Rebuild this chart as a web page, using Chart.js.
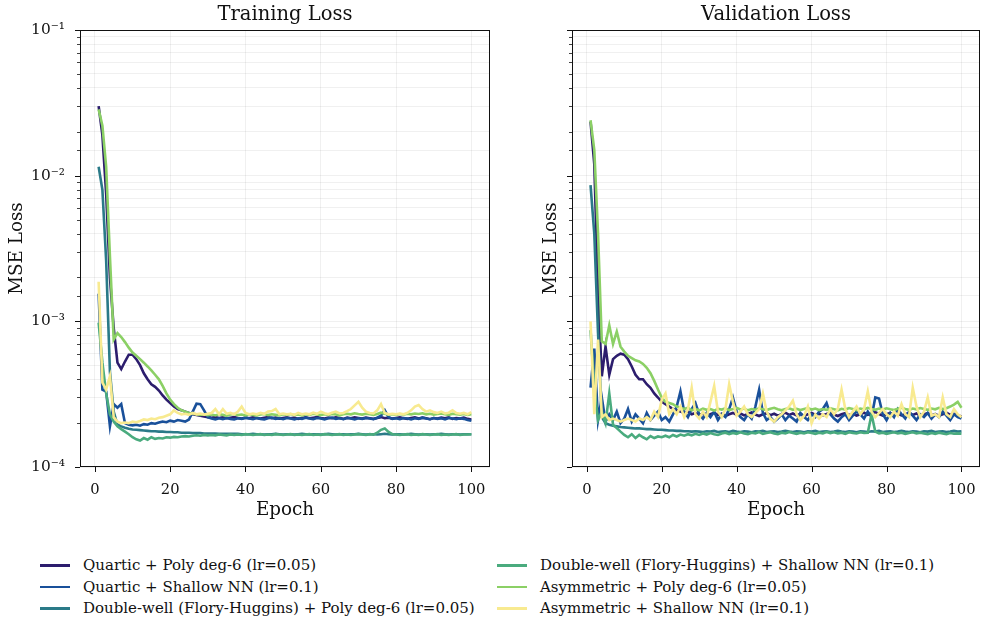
<!DOCTYPE html>
<html>
<head>
<meta charset="utf-8">
<script src="https://cdn.jsdelivr.net/npm/chart.js@4/dist/chart.umd.min.js"></script>
<style>
  body { margin: 0; background: #fff; width: 981px; height: 619px; position: relative; overflow: hidden; font-family: "DejaVu Serif", serif; }
  canvas { position: absolute; top: 0; }
  #trainChart { left: 0; }
  #valChart { left: 534px; }
  .legend-item { position: absolute; font-size: 15px; color: #111; line-height: 18px; white-space: nowrap; }
  .legend-item span { position: absolute; top: 8px; width: 30px; height: 2.8px; }
</style>
</head>
<body>
<canvas id="trainChart" width="491" height="525"></canvas>
<canvas id="valChart" width="447" height="525"></canvas>
<div id="legend"></div>
<script>
// epochs 1..100
const epochs = Array.from({ length: 100 }, (_, i) => i + 1);

const runNames = [
  "Quartic + Poly deg-6 (lr=0.05)",
  "Quartic + Shallow NN (lr=0.1)",
  "Double-well (Flory-Huggins) + Poly deg-6 (lr=0.05)",
  "Double-well (Flory-Huggins) + Shallow NN (lr=0.1)",
  "Asymmetric + Poly deg-6 (lr=0.05)",
  "Asymmetric + Shallow NN (lr=0.1)"
];
const runColors = ["#2c1d6d", "#19509a", "#2a7a88", "#4aab7e", "#8bd065", "#f8ea90"];

const yTicks = [1e-4, 1e-3, 1e-2, 1e-1];
const xTicks = [0, 20, 40, 60, 80, 100];

// ---- training loss ----
const trainQuarticPoly = [
  3.0e-2, 1.9e-2, 7.5e-3, 2.0e-3, 9.0e-4, 5.2e-4, 4.7e-4, 5.3e-4, 5.9e-4, 5.9e-4,
  5.5e-4, 5.0e-4, 4.4e-4, 4.0e-4, 3.7e-4, 3.55e-4, 3.35e-4, 3.1e-4, 2.9e-4, 2.75e-4,
  2.6e-4, 2.5e-4, 2.45e-4, 2.4e-4, 2.35e-4, 2.3e-4, 2.28e-4, 2.25e-4, 2.22e-4, 2.2e-4,
  2.18e-4, 2.2e-4, 2.17e-4, 2.19e-4, 2.16e-4, 2.18e-4, 2.2e-4, 2.17e-4, 2.15e-4, 2.18e-4,
  2.16e-4, 2.19e-4, 2.17e-4, 2.15e-4, 2.18e-4, 2.2e-4, 2.16e-4, 2.18e-4, 2.15e-4, 2.17e-4,
  2.19e-4, 2.16e-4, 2.18e-4, 2.14e-4, 2.17e-4, 2.19e-4, 2.16e-4, 2.18e-4, 2.2e-4, 2.17e-4,
  2.15e-4, 2.18e-4, 2.16e-4, 2.19e-4, 2.17e-4, 2.14e-4, 2.18e-4, 2.16e-4, 2.19e-4, 2.17e-4,
  2.15e-4, 2.18e-4, 2.16e-4, 2.14e-4, 2.17e-4, 2.2e-4, 2.16e-4, 2.18e-4, 2.15e-4, 2.17e-4,
  2.19e-4, 2.16e-4, 2.14e-4, 2.17e-4, 2.19e-4, 2.15e-4, 2.18e-4, 2.16e-4, 2.13e-4, 2.17e-4,
  2.15e-4, 2.18e-4, 2.16e-4, 2.19e-4, 2.14e-4, 2.17e-4, 2.15e-4, 2.18e-4, 2.14e-4, 2.12e-4
];
const trainQuarticNN = [
  1.55e-3, 3.4e-4, 3.3e-4, 1.9e-4, 2.7e-4, 2.55e-4, 2.7e-4, 2.0e-4, 1.95e-4, 1.93e-4,
  1.95e-4, 1.92e-4, 1.97e-4, 1.95e-4, 2.0e-4, 1.98e-4, 2.02e-4, 2.05e-4, 2.03e-4, 2.08e-4,
  2.05e-4, 2.1e-4, 2.08e-4, 2.05e-4, 2.12e-4, 2.4e-4, 2.72e-4, 2.7e-4, 2.45e-4, 2.2e-4,
  2.15e-4, 2.12e-4, 2.16e-4, 2.13e-4, 2.17e-4, 2.14e-4, 2.12e-4, 2.16e-4, 2.14e-4, 2.18e-4,
  2.15e-4, 2.13e-4, 2.17e-4, 2.14e-4, 2.12e-4, 2.16e-4, 2.18e-4, 2.14e-4, 2.16e-4, 2.13e-4,
  2.17e-4, 2.15e-4, 2.12e-4, 2.16e-4, 2.14e-4, 2.18e-4, 2.15e-4, 2.13e-4, 2.17e-4, 2.15e-4,
  2.12e-4, 2.16e-4, 2.18e-4, 2.14e-4, 2.16e-4, 2.13e-4, 2.17e-4, 2.15e-4, 2.12e-4, 2.16e-4,
  2.14e-4, 2.17e-4, 2.15e-4, 2.13e-4, 2.18e-4, 2.25e-4, 2.45e-4, 2.2e-4, 2.14e-4, 2.16e-4,
  2.13e-4, 2.17e-4, 2.15e-4, 2.12e-4, 2.16e-4, 2.14e-4, 2.18e-4, 2.15e-4, 2.13e-4, 2.17e-4,
  2.14e-4, 2.16e-4, 2.12e-4, 2.17e-4, 2.15e-4, 2.13e-4, 2.16e-4, 2.14e-4, 2.1e-4, 2.08e-4
];
const trainDwPoly = [
  1.15e-2, 8.0e-3, 2.6e-3, 4.5e-4, 2.4e-4, 1.95e-4, 1.9e-4, 1.86e-4, 1.83e-4, 1.81e-4,
  1.8e-4, 1.79e-4, 1.78e-4, 1.77e-4, 1.76e-4, 1.76e-4, 1.75e-4, 1.75e-4, 1.74e-4, 1.74e-4,
  1.73e-4, 1.73e-4, 1.72e-4, 1.72e-4, 1.72e-4, 1.71e-4, 1.71e-4, 1.71e-4, 1.7e-4, 1.7e-4,
  1.7e-4, 1.7e-4, 1.69e-4, 1.69e-4, 1.69e-4, 1.69e-4, 1.69e-4, 1.69e-4, 1.68e-4, 1.68e-4,
  1.68e-4, 1.69e-4, 1.68e-4, 1.68e-4, 1.67e-4, 1.68e-4, 1.68e-4, 1.69e-4, 1.68e-4, 1.67e-4,
  1.68e-4, 1.68e-4, 1.67e-4, 1.68e-4, 1.69e-4, 1.68e-4, 1.67e-4, 1.68e-4, 1.68e-4, 1.67e-4,
  1.68e-4, 1.69e-4, 1.68e-4, 1.67e-4, 1.68e-4, 1.68e-4, 1.67e-4, 1.68e-4, 1.68e-4, 1.69e-4,
  1.68e-4, 1.67e-4, 1.68e-4, 1.68e-4, 1.67e-4, 1.68e-4, 1.69e-4, 1.68e-4, 1.67e-4, 1.68e-4,
  1.68e-4, 1.67e-4, 1.68e-4, 1.69e-4, 1.68e-4, 1.67e-4, 1.68e-4, 1.68e-4, 1.67e-4, 1.68e-4,
  1.68e-4, 1.69e-4, 1.68e-4, 1.67e-4, 1.68e-4, 1.68e-4, 1.67e-4, 1.68e-4, 1.68e-4, 1.68e-4
];
const trainDwNN = [
  9.8e-4, 5.2e-4, 3.2e-4, 2.3e-4, 2.05e-4, 1.9e-4, 1.82e-4, 1.75e-4, 1.68e-4, 1.6e-4,
  1.55e-4, 1.52e-4, 1.58e-4, 1.54e-4, 1.6e-4, 1.56e-4, 1.58e-4, 1.57e-4, 1.6e-4, 1.59e-4,
  1.61e-4, 1.6e-4, 1.62e-4, 1.63e-4, 1.62e-4, 1.64e-4, 1.65e-4, 1.64e-4, 1.66e-4, 1.65e-4,
  1.66e-4, 1.65e-4, 1.67e-4, 1.66e-4, 1.65e-4, 1.67e-4, 1.66e-4, 1.67e-4, 1.66e-4, 1.68e-4,
  1.67e-4, 1.66e-4, 1.67e-4, 1.68e-4, 1.66e-4, 1.67e-4, 1.66e-4, 1.68e-4, 1.67e-4, 1.66e-4,
  1.67e-4, 1.68e-4, 1.66e-4, 1.67e-4, 1.66e-4, 1.67e-4, 1.68e-4, 1.66e-4, 1.67e-4, 1.66e-4,
  1.68e-4, 1.67e-4, 1.66e-4, 1.67e-4, 1.68e-4, 1.66e-4, 1.67e-4, 1.66e-4, 1.67e-4, 1.68e-4,
  1.67e-4, 1.66e-4, 1.68e-4, 1.67e-4, 1.72e-4, 1.8e-4, 1.84e-4, 1.74e-4, 1.68e-4, 1.67e-4,
  1.66e-4, 1.67e-4, 1.68e-4, 1.66e-4, 1.67e-4, 1.66e-4, 1.68e-4, 1.67e-4, 1.66e-4, 1.67e-4,
  1.68e-4, 1.66e-4, 1.67e-4, 1.66e-4, 1.67e-4, 1.68e-4, 1.66e-4, 1.67e-4, 1.67e-4, 1.68e-4
];
const trainAsymPoly = [
  2.85e-2, 2.2e-2, 1.15e-2, 2.8e-3, 7.5e-4, 8.3e-4, 7.8e-4, 7.2e-4, 6.6e-4, 6.1e-4,
  5.8e-4, 5.5e-4, 5.2e-4, 4.9e-4, 4.6e-4, 4.3e-4, 4.0e-4, 3.6e-4, 3.2e-4, 2.9e-4,
  2.7e-4, 2.55e-4, 2.45e-4, 2.4e-4, 2.35e-4, 2.32e-4, 2.3e-4, 2.28e-4, 2.3e-4, 2.27e-4,
  2.29e-4, 2.26e-4, 2.3e-4, 2.28e-4, 2.25e-4, 2.29e-4, 2.31e-4, 2.27e-4, 2.29e-4, 2.26e-4,
  2.3e-4, 2.28e-4, 2.26e-4, 2.29e-4, 2.31e-4, 2.27e-4, 2.3e-4, 2.28e-4, 2.26e-4, 2.3e-4,
  2.28e-4, 2.31e-4, 2.27e-4, 2.29e-4, 2.26e-4, 2.3e-4, 2.28e-4, 2.32e-4, 2.29e-4, 2.27e-4,
  2.3e-4, 2.28e-4, 2.31e-4, 2.29e-4, 2.26e-4, 2.3e-4, 2.32e-4, 2.3e-4, 2.34e-4, 2.31e-4,
  2.29e-4, 2.32e-4, 2.3e-4, 2.28e-4, 2.31e-4, 2.36e-4, 2.32e-4, 2.29e-4, 2.3e-4, 2.28e-4,
  2.31e-4, 2.29e-4, 2.32e-4, 2.3e-4, 2.33e-4, 2.31e-4, 2.34e-4, 2.3e-4, 2.32e-4, 2.29e-4,
  2.31e-4, 2.33e-4, 2.3e-4, 2.28e-4, 2.32e-4, 2.3e-4, 2.29e-4, 2.31e-4, 2.28e-4, 2.3e-4
];
const trainAsymNN = [
  1.87e-3, 3.8e-4, 3.4e-4, 4.2e-4, 2.2e-4, 2.05e-4, 2.0e-4, 2.02e-4, 2.0e-4, 2.05e-4,
  2.03e-4, 2.07e-4, 2.12e-4, 2.1e-4, 2.15e-4, 2.13e-4, 2.18e-4, 2.2e-4, 2.25e-4, 2.3e-4,
  2.45e-4, 2.35e-4, 2.3e-4, 2.32e-4, 2.28e-4, 2.35e-4, 2.3e-4, 2.33e-4, 2.29e-4, 2.32e-4,
  2.35e-4, 2.5e-4, 2.3e-4, 2.5e-4, 2.32e-4, 2.35e-4, 2.3e-4, 2.4e-4, 2.6e-4, 2.35e-4,
  2.3e-4, 2.33e-4, 2.3e-4, 2.35e-4, 2.32e-4, 2.4e-4, 2.42e-4, 2.5e-4, 2.3e-4, 2.33e-4,
  2.3e-4, 2.32e-4, 2.28e-4, 2.35e-4, 2.3e-4, 2.33e-4, 2.3e-4, 2.36e-4, 2.32e-4, 2.4e-4,
  2.34e-4, 2.3e-4, 2.36e-4, 2.4e-4, 2.33e-4, 2.35e-4, 2.42e-4, 2.5e-4, 2.65e-4, 2.8e-4,
  2.55e-4, 2.4e-4, 2.35e-4, 2.33e-4, 2.45e-4, 2.7e-4, 2.35e-4, 2.3e-4, 2.32e-4, 2.3e-4,
  2.33e-4, 2.3e-4, 2.35e-4, 2.45e-4, 2.6e-4, 2.66e-4, 2.5e-4, 2.4e-4, 2.45e-4, 2.38e-4,
  2.35e-4, 2.4e-4, 2.33e-4, 2.36e-4, 2.45e-4, 2.35e-4, 2.32e-4, 2.35e-4, 2.3e-4, 2.38e-4
];

// ---- validation loss ----
const valQuarticPoly = [
  2.35e-2, 1.2e-2, 1.6e-3, 4.2e-4, 6.7e-4, 4.3e-4, 5.5e-4, 5.8e-4, 6.0e-4, 5.9e-4,
  5.5e-4, 4.9e-4, 4.3e-4, 4.0e-4, 4.0e-4, 3.7e-4, 3.5e-4, 3.2e-4, 3.0e-4, 2.8e-4,
  2.7e-4, 2.6e-4, 2.5e-4, 2.45e-4, 2.4e-4, 2.35e-4, 2.4e-4, 2.3e-4, 2.35e-4, 2.28e-4,
  2.32e-4, 2.25e-4, 2.3e-4, 2.36e-4, 2.27e-4, 2.32e-4, 2.24e-4, 2.3e-4, 2.35e-4, 2.28e-4,
  2.33e-4, 2.26e-4, 2.31e-4, 2.37e-4, 2.29e-4, 2.24e-4, 2.3e-4, 2.34e-4, 2.27e-4, 2.32e-4,
  2.25e-4, 2.3e-4, 2.36e-4, 2.28e-4, 2.33e-4, 2.26e-4, 2.31e-4, 2.24e-4, 2.3e-4, 2.35e-4,
  2.28e-4, 2.32e-4, 2.26e-4, 2.31e-4, 2.37e-4, 2.29e-4, 2.24e-4, 2.3e-4, 2.34e-4, 2.27e-4,
  2.32e-4, 2.25e-4, 2.3e-4, 2.36e-4, 2.28e-4, 2.33e-4, 2.38e-4, 2.31e-4, 2.25e-4, 2.3e-4,
  2.35e-4, 2.27e-4, 2.32e-4, 2.26e-4, 2.3e-4, 2.35e-4, 2.28e-4, 2.33e-4, 2.25e-4, 2.3e-4,
  2.34e-4, 2.27e-4, 2.31e-4, 2.25e-4, 2.3e-4, 2.36e-4, 2.28e-4, 2.32e-4, 2.27e-4, 2.22e-4
];
const valQuarticNN = [
  3.5e-4, 6.5e-4, 2.1e-4, 3.0e-4, 2.05e-4, 2.3e-4, 2.1e-4, 2.4e-4, 2.0e-4, 2.15e-4,
  2.5e-4, 2.05e-4, 2.3e-4, 2.15e-4, 2.0e-4, 2.35e-4, 2.1e-4, 2.25e-4, 2.4e-4, 2.1e-4,
  2.2e-4, 2.05e-4, 2.3e-4, 2.6e-4, 3.3e-4, 2.4e-4, 2.2e-4, 2.5e-4, 2.75e-4, 2.3e-4,
  2.15e-4, 2.35e-4, 2.2e-4, 2.4e-4, 2.1e-4, 2.3e-4, 2.2e-4, 2.5e-4, 3.0e-4, 2.4e-4,
  2.2e-4, 2.1e-4, 2.3e-4, 2.15e-4, 2.6e-4, 3.4e-4, 2.35e-4, 2.1e-4, 2.2e-4, 2.05e-4,
  2.15e-4, 2.3e-4, 2.1e-4, 2.25e-4, 2.15e-4, 2.05e-4, 2.35e-4, 2.2e-4, 2.1e-4, 2.3e-4,
  2.2e-4, 2.4e-4, 2.5e-4, 2.75e-4, 2.3e-4, 2.15e-4, 2.05e-4, 2.2e-4, 2.3e-4, 2.1e-4,
  2.25e-4, 2.4e-4, 2.3e-4, 2.15e-4, 2.4e-4, 2.2e-4, 3.0e-4, 2.95e-4, 2.3e-4, 2.1e-4,
  2.35e-4, 2.2e-4, 2.5e-4, 2.3e-4, 2.15e-4, 2.4e-4, 2.25e-4, 2.1e-4, 2.3e-4, 2.2e-4,
  2.35e-4, 2.15e-4, 2.3e-4, 2.2e-4, 2.4e-4, 2.25e-4, 2.1e-4, 2.3e-4, 2.2e-4, 2.15e-4
];
const valDwPoly = [
  8.6e-3, 4.0e-3, 8.3e-4, 2.2e-4, 2.0e-4, 1.95e-4, 1.92e-4, 1.9e-4, 1.88e-4, 1.87e-4,
  1.86e-4, 1.85e-4, 1.84e-4, 1.84e-4, 1.83e-4, 1.82e-4, 1.82e-4, 1.81e-4, 1.8e-4, 1.8e-4,
  1.79e-4, 1.78e-4, 1.78e-4, 1.77e-4, 1.77e-4, 1.76e-4, 1.76e-4, 1.75e-4, 1.76e-4, 1.75e-4,
  1.74e-4, 1.76e-4, 1.75e-4, 1.77e-4, 1.74e-4, 1.75e-4, 1.76e-4, 1.74e-4, 1.77e-4, 1.75e-4,
  1.74e-4, 1.76e-4, 1.75e-4, 1.73e-4, 1.76e-4, 1.75e-4, 1.77e-4, 1.74e-4, 1.75e-4, 1.76e-4,
  1.74e-4, 1.75e-4, 1.77e-4, 1.75e-4, 1.74e-4, 1.76e-4, 1.75e-4, 1.73e-4, 1.76e-4, 1.75e-4,
  1.77e-4, 1.74e-4, 1.75e-4, 1.76e-4, 1.74e-4, 1.75e-4, 1.77e-4, 1.75e-4, 1.74e-4, 1.76e-4,
  1.75e-4, 1.73e-4, 1.76e-4, 1.75e-4, 1.74e-4, 1.76e-4, 1.75e-4, 1.77e-4, 1.74e-4, 1.75e-4,
  1.76e-4, 1.74e-4, 1.75e-4, 1.77e-4, 1.75e-4, 1.74e-4, 1.76e-4, 1.75e-4, 1.73e-4, 1.76e-4,
  1.75e-4, 1.77e-4, 1.74e-4, 1.75e-4, 1.76e-4, 1.74e-4, 1.75e-4, 1.77e-4, 1.75e-4, 1.76e-4
];
const valDwNN = [
  8.7e-4, 3.5e-4, 2.1e-4, 2.4e-4, 2.0e-4, 3.2e-4, 1.95e-4, 1.85e-4, 1.75e-4, 1.66e-4,
  1.6e-4, 1.68e-4, 1.58e-4, 1.66e-4, 1.6e-4, 1.55e-4, 1.63e-4, 1.58e-4, 1.62e-4, 1.6e-4,
  1.64e-4, 1.6e-4, 1.66e-4, 1.62e-4, 1.67e-4, 1.64e-4, 1.68e-4, 1.65e-4, 1.69e-4, 1.66e-4,
  1.7e-4, 1.67e-4, 1.71e-4, 1.68e-4, 1.66e-4, 1.7e-4, 1.72e-4, 1.68e-4, 1.71e-4, 1.69e-4,
  1.73e-4, 1.7e-4, 1.68e-4, 1.72e-4, 1.7e-4, 1.74e-4, 1.69e-4, 1.71e-4, 1.73e-4, 1.7e-4,
  1.68e-4, 1.72e-4, 1.7e-4, 1.74e-4, 1.71e-4, 1.69e-4, 1.72e-4, 1.7e-4, 1.73e-4, 1.71e-4,
  1.69e-4, 1.72e-4, 1.7e-4, 1.74e-4, 1.71e-4, 1.73e-4, 1.7e-4, 1.72e-4, 1.69e-4, 1.73e-4,
  1.71e-4, 1.7e-4, 1.73e-4, 1.71e-4, 1.72e-4, 2.3e-4, 1.75e-4, 1.7e-4, 1.72e-4, 1.69e-4,
  1.71e-4, 1.73e-4, 1.7e-4, 1.72e-4, 1.69e-4, 1.71e-4, 1.73e-4, 1.7e-4, 1.72e-4, 1.7e-4,
  1.68e-4, 1.71e-4, 1.69e-4, 1.72e-4, 1.7e-4, 1.68e-4, 1.71e-4, 1.69e-4, 1.7e-4, 1.69e-4
];
const valAsymPoly = [
  2.4e-2, 1.5e-2, 4.0e-3, 7.3e-4, 7.0e-4, 9.4e-4, 7.0e-4, 8.5e-4, 6.7e-4, 6.2e-4,
  5.8e-4, 5.6e-4, 5.4e-4, 5.3e-4, 5.1e-4, 4.8e-4, 4.4e-4, 3.9e-4, 3.4e-4, 3.0e-4,
  2.8e-4, 2.75e-4, 2.7e-4, 2.6e-4, 2.55e-4, 2.5e-4, 2.55e-4, 2.45e-4, 2.5e-4, 2.45e-4,
  2.52e-4, 2.47e-4, 2.5e-4, 2.44e-4, 2.51e-4, 2.48e-4, 2.53e-4, 2.46e-4, 2.5e-4, 2.55e-4,
  2.48e-4, 2.52e-4, 2.45e-4, 2.5e-4, 2.47e-4, 2.53e-4, 2.49e-4, 2.46e-4, 2.51e-4, 2.55e-4,
  2.49e-4, 2.45e-4, 2.5e-4, 2.53e-4, 2.47e-4, 2.51e-4, 2.46e-4, 2.5e-4, 2.54e-4, 2.48e-4,
  2.52e-4, 2.46e-4, 2.5e-4, 2.47e-4, 2.53e-4, 2.49e-4, 2.45e-4, 2.51e-4, 2.48e-4, 2.54e-4,
  2.5e-4, 2.46e-4, 2.52e-4, 2.49e-4, 2.55e-4, 2.5e-4, 2.47e-4, 2.52e-4, 2.48e-4, 2.53e-4,
  2.49e-4, 2.46e-4, 2.51e-4, 2.55e-4, 2.5e-4, 2.47e-4, 2.52e-4, 2.49e-4, 2.54e-4, 2.5e-4,
  2.47e-4, 2.52e-4, 2.49e-4, 2.55e-4, 2.5e-4, 2.53e-4, 2.6e-4, 2.68e-4, 2.8e-4, 2.55e-4
];
const valAsymNN = [
  1.0e-3, 2.3e-4, 7.5e-4, 2.2e-4, 2.3e-4, 2.1e-4, 2.15e-4, 2.1e-4, 2.05e-4, 2.1e-4,
  2.15e-4, 2.1e-4, 2.05e-4, 2.15e-4, 2.1e-4, 2.2e-4, 2.1e-4, 2.4e-4, 2.2e-4, 2.9e-4,
  3.2e-4, 2.3e-4, 2.5e-4, 2.3e-4, 2.6e-4, 2.2e-4, 2.5e-4, 3.5e-4, 2.3e-4, 2.15e-4,
  2.4e-4, 2.2e-4, 2.8e-4, 3.6e-4, 2.4e-4, 2.2e-4, 2.5e-4, 3.7e-4, 2.8e-4, 2.25e-4,
  2.4e-4, 2.6e-4, 2.3e-4, 2.2e-4, 2.35e-4, 2.5e-4, 3.2e-4, 2.4e-4, 2.15e-4, 2.05e-4,
  2.2e-4, 2.3e-4, 2.45e-4, 2.6e-4, 2.85e-4, 2.3e-4, 2.1e-4, 2.25e-4, 2.6e-4, 2.0e-4,
  2.3e-4, 2.15e-4, 2.3e-4, 2.2e-4, 2.5e-4, 2.3e-4, 2.5e-4, 3.4e-4, 2.5e-4, 2.2e-4,
  2.4e-4, 2.6e-4, 2.3e-4, 2.5e-4, 3.3e-4, 2.4e-4, 2.2e-4, 2.35e-4, 2.5e-4, 2.3e-4,
  2.2e-4, 2.4e-4, 2.25e-4, 2.7e-4, 2.3e-4, 2.2e-4, 3.5e-4, 2.6e-4, 2.2e-4, 2.4e-4,
  3.0e-4, 2.25e-4, 2.3e-4, 2.2e-4, 3.0e-4, 2.3e-4, 2.2e-4, 2.5e-4, 2.3e-4, 2.2e-4
];

const trainRuns = [trainQuarticPoly, trainQuarticNN, trainDwPoly, trainDwNN, trainAsymPoly, trainAsymNN];
const valRuns = [valQuarticPoly, valQuarticNN, valDwPoly, valDwNN, valAsymPoly, valAsymNN];

const FONT = "'DejaVu Serif', serif";
const isDecade = v => Math.abs(Math.log10(v) - Math.round(Math.log10(v))) < 1e-9;
const supers = { "-": "\u207B", "0": "\u2070", "1": "\u00B9", "2": "\u00B2", "3": "\u00B3", "4": "\u2074" };
const decadeLabel = v => "10" + String(Math.round(Math.log10(v))).split("").map(c => supers[c]).join("");

// box around the axes, tick marks, and the panel title
const framePlugin = {
  id: "frame",
  afterDraw(chart, args, opts) {
    const { ctx, chartArea: a } = chart;
    const ys = chart.scales.y, xs = chart.scales.x;
    ctx.save();
    ctx.strokeStyle = "#111";
    ctx.lineWidth = 1;
    ctx.strokeRect(a.left + 0.5, a.top + 0.5, a.right - a.left - 1, a.bottom - a.top - 1);
    ys.ticks.forEach(t => {
      const py = Math.round(ys.getPixelForValue(t.value)) + 0.5;
      const len = isDecade(t.value) ? 5 : 3;
      ctx.lineWidth = isDecade(t.value) ? 1 : 0.8;
      ctx.beginPath();
      ctx.moveTo(a.left - len, py);
      ctx.lineTo(a.left, py);
      ctx.stroke();
    });
    ctx.lineWidth = 1;
    xs.ticks.forEach(t => {
      const px = Math.round(xs.getPixelForValue(t.value)) + 0.5;
      ctx.beginPath();
      ctx.moveTo(px, a.bottom);
      ctx.lineTo(px, a.bottom + 5);
      ctx.stroke();
    });
    ctx.fillStyle = "#111";
    ctx.font = "19.5px " + FONT;
    ctx.textAlign = "center";
    ctx.textBaseline = "middle";
    ctx.fillText(opts.text, (a.left + a.right) / 2, a.top - 15);
    ctx.restore();
  }
};

function makeChart(id, runs, title, yAxisWidth, showYLabels) {
  return new Chart(document.getElementById(id), {
    type: "line",
    data: {
      datasets: runs.map((vals, i) => ({
        label: runNames[i],
        data: vals.map((v, k) => ({ x: epochs[k], y: v })),
        borderColor: runColors[i],
        borderWidth: 2.6,
        pointRadius: 0,
        tension: 0,
        fill: false,
        order: runs.length - i
      }))
    },
    options: {
      responsive: false,
      animation: false,
      layout: { padding: { top: 30, right: 1, bottom: 0, left: 0 } },
      plugins: {
        legend: { display: false },
        tooltip: { enabled: false },
        frame: { text: title }
      },
      scales: {
        x: {
          type: "linear",
          min: -3.95,
          max: 104.95,
          afterBuildTicks: s => { s.ticks = xTicks.map(v => ({ value: v })); },
          afterFit: s => { s.height = 58; s.paddingLeft = 0; s.paddingRight = 0; },
          grid: { color: "rgba(0,0,0,0.08)", lineWidth: 0.8, drawTicks: false },
          border: { display: false },
          ticks: { color: "#111", font: { family: FONT, size: 14.7 }, padding: 14, maxRotation: 0 },
          title: { display: true, text: "Epoch", color: "#111", font: { family: FONT, size: 18.3 }, padding: { top: 4, bottom: 4 } }
        },
        y: {
          type: "logarithmic",
          min: 1e-4,
          max: 1e-1,
          afterFit: s => { s.width = yAxisWidth; s.paddingTop = 0; s.paddingBottom = 0; },
          grid: { color: "rgba(0,0,0,0.08)", lineWidth: 0.8, drawTicks: false },
          border: { display: false },
          ticks: {
            color: "#111",
            autoSkip: false,
            padding: 15,
            font: { family: FONT, size: 15.4 },
            callback: v => (showYLabels && isDecade(v)) ? decadeLabel(v) : ""
          },
          title: { display: true, text: "MSE Loss", color: "#111", font: { family: FONT, size: 18.3 }, padding: { top: 6, bottom: 0 } }
        }
      }
    },
    plugins: [framePlugin]
  });
}

makeChart("trainChart", trainRuns, "Training Loss", 80, true);
makeChart("valChart", valRuns, "Validation Loss", 38, false);

// legend below both panels, two columns of three
const legend = document.getElementById("legend");
runNames.forEach((name, i) => {
  const col = Math.floor(i / 3), row = i % 3;
  const item = document.createElement("div");
  item.className = "legend-item";
  item.style.left = (col === 0 ? 40 : 497) + "px";
  item.style.top = (556 + row * 21.5) + "px";
  item.style.paddingLeft = "43px";
  item.innerHTML = '<span style="left:0;background:' + runColors[i] + '"></span>' + name;
  legend.appendChild(item);
});
</script>
</body>
</html>
